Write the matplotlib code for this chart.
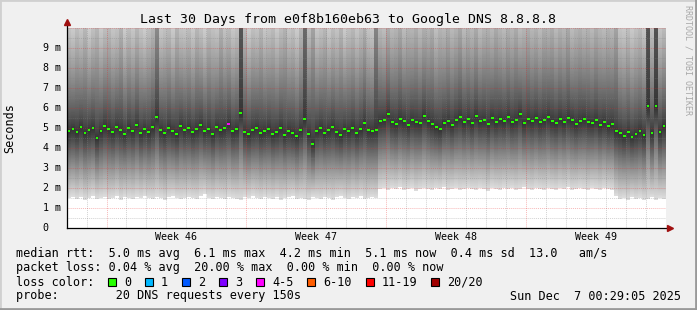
from datetime import datetime, timedelta

import matplotlib
matplotlib.use("Agg")
import matplotlib.pyplot as plt
import numpy as np
from matplotlib.lines import Line2D
from matplotlib.patches import Rectangle

W, H = 697, 310
MONO = "DejaVu Sans Mono"

TITLE = "Last 30 Days from e0f8b160eb63 to Google DNS 8.8.8.8"
END_TIME = datetime(2025, 12, 7, 0, 29, 5)
SPAN_DAYS = 30
WEEK_LABELS = ["Week 46", "Week 47", "Week 48", "Week 49"]

# one sample every 0.2 day (4.8 h), 150 samples over 30 days
median_ms = [
    4.85, 4.95, 4.80, 5.05, 4.75, 4.90, 5.00, 4.50, 4.85, 5.10,
    4.95, 4.80, 5.05, 4.90, 4.70, 5.00, 4.85, 5.15, 4.75, 4.95,
    4.80, 5.05, 5.55, 4.90, 4.75, 5.00, 4.85, 4.70, 5.10, 4.90,
    5.00, 4.80, 4.95, 5.15, 4.85, 4.95, 4.70, 5.05, 4.90, 5.00,
    5.20, 4.85, 4.95, 5.75, 4.80, 4.70, 4.90, 5.00, 4.75, 4.85,
    4.95, 4.70, 4.80, 5.00, 4.65, 4.85, 4.75, 4.60, 4.90, 5.45,
    4.70, 4.20, 4.85, 5.00, 4.75, 4.90, 5.05, 4.80, 4.65, 4.95,
    4.85, 5.00, 4.75, 4.95, 5.25, 4.90, 4.85, 4.90, 5.35, 5.40,
    5.70, 5.30, 5.20, 5.45, 5.35, 5.15, 5.40, 5.30, 5.25, 5.60,
    5.35, 5.20, 5.05, 4.95, 5.25, 5.35, 5.15, 5.40, 5.55, 5.30,
    5.45, 5.25, 5.60, 5.35, 5.40, 5.20, 5.50, 5.30, 5.45, 5.35,
    5.55, 5.30, 5.40, 5.70, 5.25, 5.45, 5.35, 5.50, 5.30, 5.40,
    5.55, 5.35, 5.25, 5.45, 5.30, 5.50, 5.40, 5.20, 5.35, 5.45,
    5.30, 5.25, 5.40, 5.15, 5.30, 5.10, 5.20, 4.85, 4.75, 4.60,
    4.80, 4.55, 4.70, 4.85, 4.65, 6.10, 4.75, 6.10, 4.80, 5.10,
]
# packet loss (pings out of 20) per sample, only one lossy sample
loss_count = [0] * 150
loss_count[40] = 4

# lower edge of the smoke (fastest pings)
smoke_low = [
    1.50, 1.55, 1.45, 1.55, 1.40, 1.50, 1.60, 1.45, 1.50, 1.55,
    1.45, 1.50, 1.60, 1.40, 1.55, 1.50, 1.45, 1.55, 1.50, 1.60,
    1.50, 1.45, 1.55, 1.50, 1.40, 1.55, 1.60, 1.50, 1.45, 1.50,
    1.55, 1.50, 1.45, 1.60, 1.70, 1.50, 1.45, 1.55, 1.50, 1.45,
    1.55, 1.50, 1.45, 1.40, 1.55, 1.50, 1.60, 1.50, 1.45, 1.55,
    1.50, 1.45, 1.55, 1.40, 1.50, 1.55, 1.60, 1.45, 1.50, 1.45,
    1.40, 1.55, 1.50, 1.45, 1.55, 1.50, 1.40, 1.55, 1.60, 1.50,
    1.45, 1.55, 1.50, 1.60, 1.45, 1.50, 1.55, 1.50, 1.95, 2.00,
    1.90, 2.00, 1.95, 2.05, 1.90, 1.95, 2.00, 1.85, 1.95, 2.00,
    1.95, 1.90, 2.00, 1.95, 2.05, 1.90, 1.95, 2.00, 1.90, 1.95,
    2.00, 1.95, 1.90, 2.00, 1.95, 1.85, 2.00, 1.95, 1.90, 2.00,
    1.95, 2.00, 1.90, 1.95, 2.05, 1.95, 1.90, 2.00, 1.95, 1.90,
    2.00, 1.95, 1.90, 2.00, 1.95, 2.05, 1.90, 1.95, 2.00, 1.95,
    1.90, 2.00, 1.95, 1.90, 2.00, 1.95, 1.90, 1.60, 1.45, 1.50,
    1.40, 1.55, 1.45, 1.50, 1.40, 1.45, 1.55, 1.40, 1.50, 1.45,
]
# where the upper smoke fades out (slowest pings)
smoke_high = [
    11.0, 10.6, 11.4, 10.8, 11.8, 10.5, 11.2, 12.0, 10.7, 11.3,
    11.6, 10.9, 11.1, 12.2, 10.6, 11.4, 10.8, 11.7, 11.0, 10.5,
    11.3, 11.9, 16.0, 10.8, 11.2, 11.5, 10.6, 12.1, 11.0, 10.9,
    11.4, 10.7, 11.8, 11.1, 10.5, 11.6, 11.2, 10.9, 12.3, 11.0,
    11.5, 10.8, 11.2, 40.0, 11.7, 10.6, 11.3, 11.0, 12.0, 10.8,
    11.1, 11.6, 10.7, 11.4, 12.2, 10.9, 11.3, 10.6, 11.8, 25.0,
    11.5, 14.0, 10.8, 11.2, 11.9, 10.7, 11.4, 11.0, 12.1, 10.6,
    11.3, 11.7, 10.9, 11.5, 12.4, 11.0, 10.8, 18.0, 11.6, 11.2,
    12.2, 11.5, 11.9, 12.6, 11.3, 12.0, 11.7, 12.4, 11.4, 12.1,
    11.8, 12.5, 11.2, 12.0, 11.6, 12.3, 11.5, 11.9, 12.7, 11.4,
    12.0, 11.6, 12.4, 11.3, 11.9, 12.2, 11.5, 12.6, 11.8, 11.4,
    12.1, 11.7, 12.5, 11.3, 11.9, 12.3, 11.6, 12.0, 11.4, 12.2,
    11.8, 12.4, 11.5, 12.1, 11.7, 12.6, 11.3, 11.9, 12.2, 11.6,
    12.0, 11.5, 12.3, 11.8, 11.4, 12.1, 11.7, 13.5, 11.0, 10.8,
    11.4, 10.7, 11.2, 11.6, 10.9, 40.0, 11.3, 40.0, 11.0, 11.5,
]

rtt_stats = [5.0, 6.1, 4.2, 5.1, 0.4, 13.0]
loss_stats = [0.04, 20.00, 0.00, 0.00]
loss_labels = ["0", "1", "2", "3", "4-5", "6-10", "11-19", "20/20"]
loss_colors = ["#26ff00", "#00b8ff", "#0059ff", "#7e00ff",
               "#ff00ff", "#ff5e00", "#ff0000", "#a10000"]
loss_bins = [0, 1, 2, 3, 4, 6, 11, 20]
probe_text = "20 DNS requests every 150s"


def px(x, y):
    return x / W, 1 - y / H


def loss_color(n):
    idx = max(i for i, b in enumerate(loss_bins) if n >= b)
    return loss_colors[idx]


def smoke_image(n_rows=400):
    edges = np.linspace(0, 10, n_rows + 1)
    yc = (edges[:-1] + edges[1:]) / 2
    img = np.ones((n_rows, len(median_ms)))
    for j, (med, lo, hi) in enumerate(zip(median_ms, smoke_low, smoke_high)):
        below = (yc >= lo) & (yc < med)
        f = (yc[below] - lo) / (med - lo)
        img[below, j] = 0.87 - 0.67 * f
        above = yc >= med
        g = np.clip((yc[above] - med) / (hi - med), 0, 1)
        img[above, j] = 0.20 + 0.65 * g ** 0.75
    return img


def main():
    start = END_TIME - timedelta(days=SPAN_DAYS)
    n = len(median_ms)
    step = SPAN_DAYS / n
    t = (np.arange(n) + 0.5) * step

    # week boundaries (Sunday 00:00) and day boundaries
    first_midnight = datetime(start.year, start.month, start.day) + timedelta(days=1)
    day_lines = []
    week_lines = []
    d = first_midnight
    while d <= END_TIME:
        off = (d - start).total_seconds() / 86400
        if d.weekday() == 6:
            week_lines.append(off)
        else:
            day_lines.append(off)
        d += timedelta(days=1)

    fig = plt.figure(figsize=(W / 100, H / 100), dpi=100, facecolor="#f0f0f0")
    x0, y0 = px(67, 228)
    x1, y1 = px(666, 28)
    ax = fig.add_axes([x0, y0, x1 - x0, y1 - y0])
    ax.set_xlim(0, SPAN_DAYS)
    ax.set_ylim(0, 10)
    ax.set_facecolor("white")
    for s in ax.spines.values():
        s.set_visible(False)
    ax.set_xticks([])
    ax.set_yticks([])

    ax.imshow(smoke_image(), cmap="gray", vmin=0, vmax=1, origin="lower",
              extent=[0, SPAN_DAYS, 0, 10], aspect="auto",
              interpolation="nearest", zorder=1)

    dot = (0, (1, 1))
    minor_c = (0.5, 0.5, 0.5, 0.35)
    major_c = (0.9, 0.15, 0.15, 0.32)
    for v in np.arange(0.5, 10, 1.0):
        ax.axhline(v, color=minor_c, lw=0.7, ls=dot, zorder=2)
    for v in day_lines:
        ax.axvline(v, color=minor_c, lw=0.7, ls=dot, zorder=2)
    for v in range(1, 11):
        ax.axhline(v, color=major_c, lw=0.7, ls=dot, zorder=2)
    for v in week_lines:
        ax.axvline(v, color=major_c, lw=0.7, ls=dot, zorder=2)

    cols = [loss_color(c) for c in loss_count]
    ax.scatter(t, median_ms, marker="s", s=4.3, c=cols, linewidths=0, zorder=3)

    # axes with arrows
    ax.plot([0, 0], [0, 10.3], color="black", lw=0.9, clip_on=False, zorder=4)
    ax.plot([0, SPAN_DAYS + 0.15], [0, 0], color="black", lw=0.9, clip_on=False, zorder=4)
    ax.plot([0], [10.3], marker="^", ms=4.5, color="#a01010", clip_on=False, zorder=5)
    ax.plot([SPAN_DAYS + 0.2], [0], marker=">", ms=4.5, color="#a01010", clip_on=False, zorder=5)

    # y tick labels
    for v in range(0, 10):
        yy = 228 - 20 * v
        if v == 0:
            fig.text(*px(48, yy), "0", ha="right", va="center", family=MONO, fontsize=7.2)
        else:
            fig.text(*px(60.5, yy), f"{v} m", ha="right", va="center", family=MONO, fontsize=7.2)

    # week labels centred between boundaries
    for lab, a, b in zip(WEEK_LABELS, week_lines[:-1], week_lines[1:]):
        ax.text((a + b) / 2, -0.45, lab, ha="center", va="center", family=MONO,
                fontsize=7.2, clip_on=False)

    fig.text(*px(348, 19), TITLE, ha="center", va="center", family=MONO, fontsize=9.5)
    fig.text(*px(10, 128), "Seconds", ha="center", va="center", rotation=90,
             family=MONO, fontsize=8.5)
    fig.text(*px(688, 5), "RRDTOOL / TOBI OETIKER", ha="center", va="top",
             rotation=-90, family=MONO, fontsize=6, color="#a8a8a8")

    r = rtt_stats
    row1 = (f"median rtt:  {r[0]:.1f} ms avg  {r[1]:.1f} ms max  {r[2]:.1f} ms min  "
            f"{r[3]:.1f} ms now  {r[4]:.1f} ms sd  {r[5]:.1f}   am/s")
    l = loss_stats
    row2 = (f"packet loss: {l[0]:.2f} % avg  {l[1]:.2f} % max  {l[2]:.2f} % min  "
            f"{l[3]:.2f} % now")
    row4 = f"probe:        {probe_text}"
    for y, s in [(254, row1), (268, row2), (296, row4)]:
        fig.text(*px(16, y), s, ha="left", va="center", family=MONO, fontsize=8.5)
    fig.text(*px(16, 282), "loss color:", ha="left", va="center", family=MONO, fontsize=8.5)

    box_x = [108, 145, 182, 219, 256, 307, 366, 431]
    for bx, lab, colr in zip(box_x, loss_labels, loss_colors):
        fig.add_artist(Rectangle(px(bx, 286), 8 / W, 8 / H, facecolor=colr,
                                 edgecolor="black", lw=0.8, transform=fig.transFigure))
        fig.text(*px(bx + 16, 282), lab, ha="left", va="center", family=MONO, fontsize=8.5)

    fig.text(*px(681, 296), END_TIME.strftime("%a %b ") + f"{END_TIME.day:2d}"
             + END_TIME.strftime(" %H:%M:%S %Y"),
             ha="right", va="center", family=MONO, fontsize=8.5)

    # shaded frame
    for xs, ys, c in [([0, 0], [0, H], "#d0d0d0"), ([0, W], [0, 0], "#d0d0d0"),
                      ([W - 1, W - 1], [0, H], "#999999"), ([0, W], [H - 1, H - 1], "#999999")]:
        fig.add_artist(Line2D([x / W for x in xs], [1 - y / H for y in ys], color=c,
                              lw=2, transform=fig.transFigure))

    fig.savefig("out.png", dpi=100, facecolor=fig.get_facecolor())


if __name__ == "__main__":
    main()
